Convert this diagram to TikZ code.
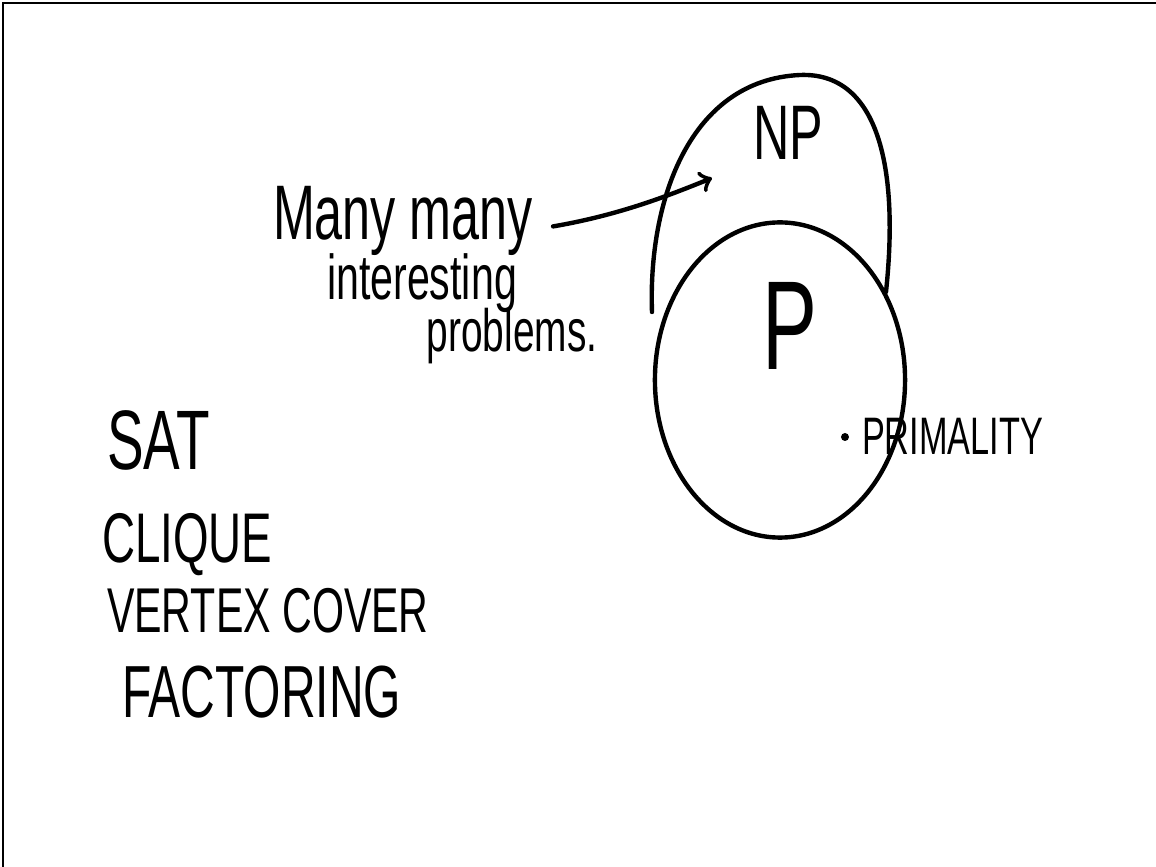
\documentclass[tikz,border=0pt]{standalone}
\usepackage{fontspec}
\setmainfont{Liberation Sans}
\newfontfamily\handfont[FakeStretch=0.65]{Liberation Sans}
\usetikzlibrary{calc,shapes.geometric}

\begin{document}
\begin{tikzpicture}[very thick, black, x=0.01cm, y=-0.01cm,
    hand/.style={inner sep=0pt, anchor=base},
    stroke/.style={line width=1.25pt, line cap=round}]

    \useasboundingbox (0,0) rectangle (1156,867);
    %frame
    \draw[thin] (3,867) -- (3,3) -- (1156,3);

    %coordinates
    \coordinate (NPs) at (652,312); %left end of NP
    \coordinate (NPt) at (800,75);  %top of NP
    \coordinate (NPe) at (886,292); %right end of NP
    \coordinate (T) at (712,178);   %arrow tip

    %classes
    \node[draw, ellipse, stroke, minimum width=2.5cm, minimum height=3.15cm] (Pclass) at (780,380) {};
    \draw[stroke] (NPs) .. controls (648,200) and (690,80) .. (NPt)
        .. controls (875,72) and (900,160) .. (NPe);
    \node[hand, font=\handfont\fontsize{22}{26}\selectfont] (NPlab) at (788,160) {NP};
    \node[hand, font=\handfont\fontsize{36}{40}\selectfont] (Plab) at (790,370) {P};

    %remark
    \node[hand, font=\handfont\fontsize{22}{26}\selectfont] (many) at (403,240) {Many many};
    \node[hand, font=\handfont\fontsize{18}{22}\selectfont] (inter) at (422,300) {interesting};
    \node[hand, font=\handfont\fontsize{17}{20}\selectfont] (probl) at (512,352) {problems.};
    \draw[->, stroke] ($(many.east)+(18,5)$) coordinate (A) .. controls (620,215) and (670,195) .. (T);

    %outside
    \fill (845,437) circle (4) coordinate (dot);
    \node[hand, anchor=base west, font=\handfont\fontsize{15}{18}\selectfont] (prim) at (860,455) {PRIMALITY};

    %problems
    \foreach \x/\y/\s/\t/\n in {105/470/24/SAT/sat,100/563/20/CLIQUE/clique,105/633/18/VERTEX COVER/vc,120/718/21/FACTORING/fact}{
        \node[hand, anchor=base west, font=\handfont\fontsize{\s}{\s}\selectfont] (\n) at (\x,\y) {\t};
    }

\end{tikzpicture}
\end{document}
